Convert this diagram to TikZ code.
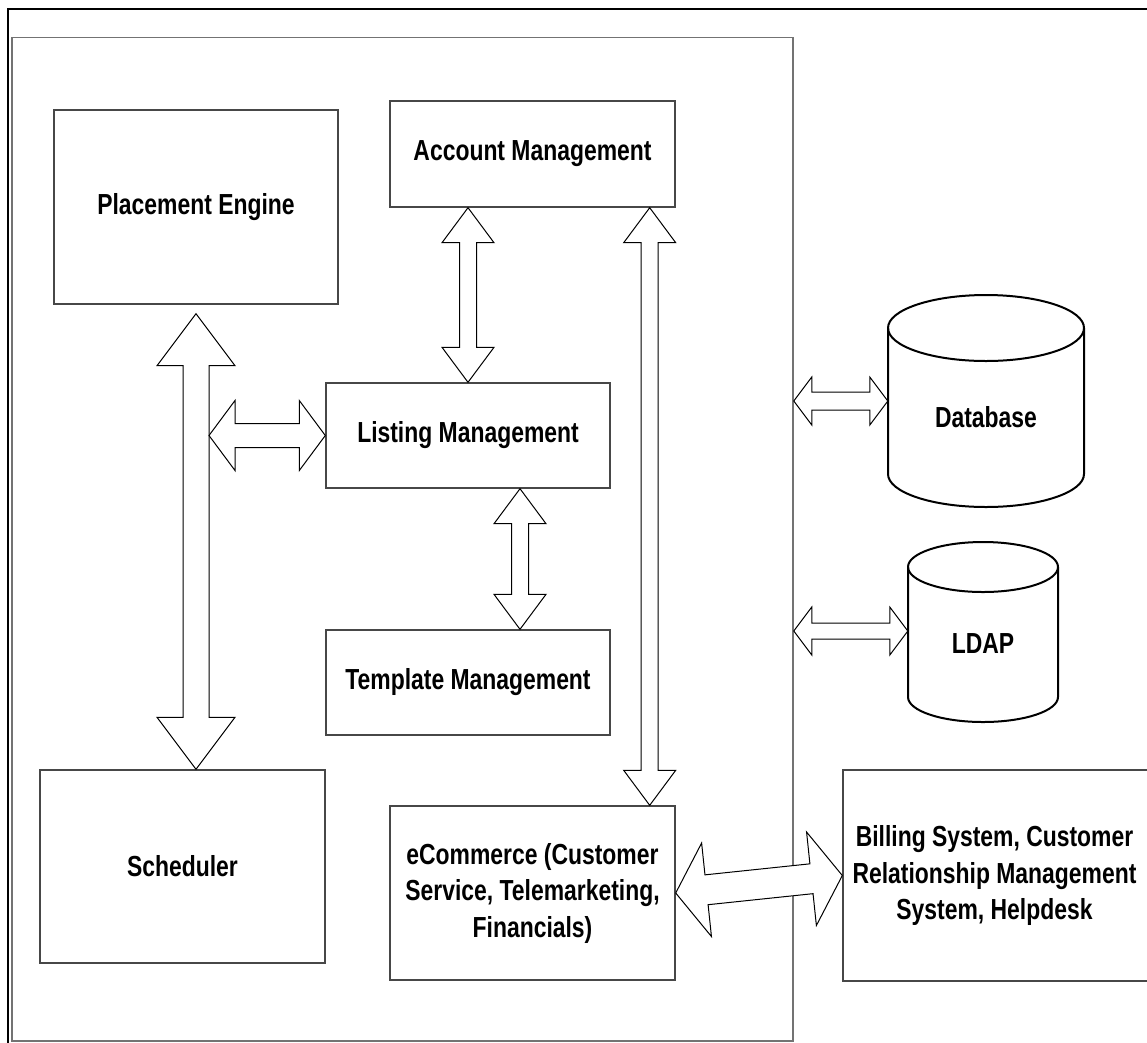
\documentclass[tikz,border=0pt]{standalone}
\usepackage{fontspec}
\setmainfont[FakeStretch=0.79]{Liberation Sans}
\usetikzlibrary{calc}

\newcommand\lblfont{\fontsize{29}{36.5}\selectfont\bfseries}

% double-headed block arrow between two points:
% #1 tip, #2 other tip, #3 head half-width, #4 shaft half-width, #5 head length
\newcommand\blockarrow[5]{%
  \coordinate (ba) at ($(#1)!#5!(#2)$);
  \coordinate (bb) at ($(#2)!#5!(#1)$);
  \draw[blockline] (#1)
    -- ($(ba)!#3!90:(#2)$) -- ($(ba)!#4!90:(#2)$)
    -- ($(bb)!#4!-90:(#1)$) -- ($(bb)!#3!-90:(#1)$)
    -- (#2)
    -- ($(bb)!#3!90:(#1)$) -- ($(bb)!#4!90:(#1)$)
    -- ($(ba)!#4!-90:(#2)$) -- ($(ba)!#3!-90:(#2)$)
    -- cycle;
}

\tikzset{
  x=1pt, y=-1pt,
  box/.style={draw=black!72, line width=1.4pt, rectangle, inner sep=0pt,
    font=\lblfont, align=center},
  framebox/.style={draw=black!55, line width=1.5pt, rectangle, inner sep=0pt},
  blockline/.style={draw=black, line width=1pt, fill=white, line join=miter},
  drum/.style={draw=black, line width=2pt},
  ghost/.style={inner sep=0pt, rectangle},
  lbl/.style={font=\lblfont, align=center, inner sep=0pt},
}

\begin{document}
\begin{tikzpicture}
\useasboundingbox (0,0) rectangle (1147,1042);

% outer border (top and left edges)
\draw[line width=2.5pt] (8,1046) -- (8,9) -- (1151,9);

% application frame
\node[framebox, minimum width=781pt, minimum height=1003.5pt] (frame) at (402.5,539.25) {};

% components
\node[box, minimum width=284pt, minimum height=194pt] (pe)  at (196,207)     {Placement Engine};
\node[box, minimum width=285pt, minimum height=106pt] (am)  at (532.5,154)   {Account Management};
\node[box, minimum width=284pt, minimum height=105pt] (lm)  at (468,435.5)   {Listing Management};
\node[box, minimum width=284pt, minimum height=105pt] (tm)  at (468,682.5)   {Template Management};
\node[box, minimum width=285pt, minimum height=193pt] (sch) at (182.5,866.5) {Scheduler};
\node[box, minimum width=285pt, minimum height=174pt] (ec)  at (532.5,893)
  {eCommerce (Customer\\Service, Telemarketing,\\Financials)};

% external systems box runs past the right edge
\node[box, minimum width=316pt, minimum height=211pt] (bill) at (1001,875.5) {};
\node[lbl] (billlabel) at (994.5,875.5)
  {Billing System, Customer\\Relationship Management\\System, Helpdesk};

% database cylinder
\node[ghost, minimum width=196pt, minimum height=212pt] (db) at (986,401) {};
\draw[drum] (888,328) -- (888,474)
  arc[start angle=180, end angle=0, x radius=98, y radius=33] -- (1084,328);
\draw[drum] (986,328) ellipse[x radius=98, y radius=33];
\node[lbl] (dblabel) at (986,417) {Database};

% directory cylinder
\node[ghost, minimum width=150pt, minimum height=178pt] (ldap) at (983,631) {};
\draw[drum] (908,567) -- (908,697)
  arc[start angle=180, end angle=0, x radius=75, y radius=25] -- (1058,567);
\draw[drum] (983,567) ellipse[x radius=75, y radius=25];
\node[lbl] (ldaplabel) at (983,644) {LDAP};

% connector end points
\coordinate (peTip)  at ($(pe.south)+(0,9)$);
\coordinate (schTip) at (pe.south |- sch.north);
\coordinate (vRight) at ($(pe.south |- lm.west)+(13,0)$);
\coordinate (amLeft) at (lm.north |- am.south);
\coordinate (lmLow)  at ($(lm.south)+(52,0)$);
\coordinate (tmTop)  at ($(tm.north)+(52,0)$);
\coordinate (amRight) at ($(am.south east)+(-26,0)$);
\coordinate (ecTop)  at ($(ec.north east)+(-26,0)$);
\coordinate (frDb)   at (frame.east |- db.west);
\coordinate (frLdap) at (frame.east |- ldap.west);

% connectors
\blockarrow{peTip}{schTip}{39pt}{13pt}{52pt}
\blockarrow{vRight}{lm.west}{35pt}{12pt}{26pt}
\blockarrow{amLeft}{lm.north}{26pt}{8.5pt}{35pt}
\blockarrow{lmLow}{tmTop}{26pt}{8.5pt}{35pt}
\blockarrow{amRight}{ecTop}{26pt}{8.5pt}{35pt}
\blockarrow{ec.east}{bill.west}{47pt}{15pt}{31pt}
\blockarrow{frDb}{db.west}{24pt}{9pt}{18pt}
\blockarrow{frLdap}{ldap.west}{24pt}{8pt}{18pt}
\end{tikzpicture}
\end{document}
